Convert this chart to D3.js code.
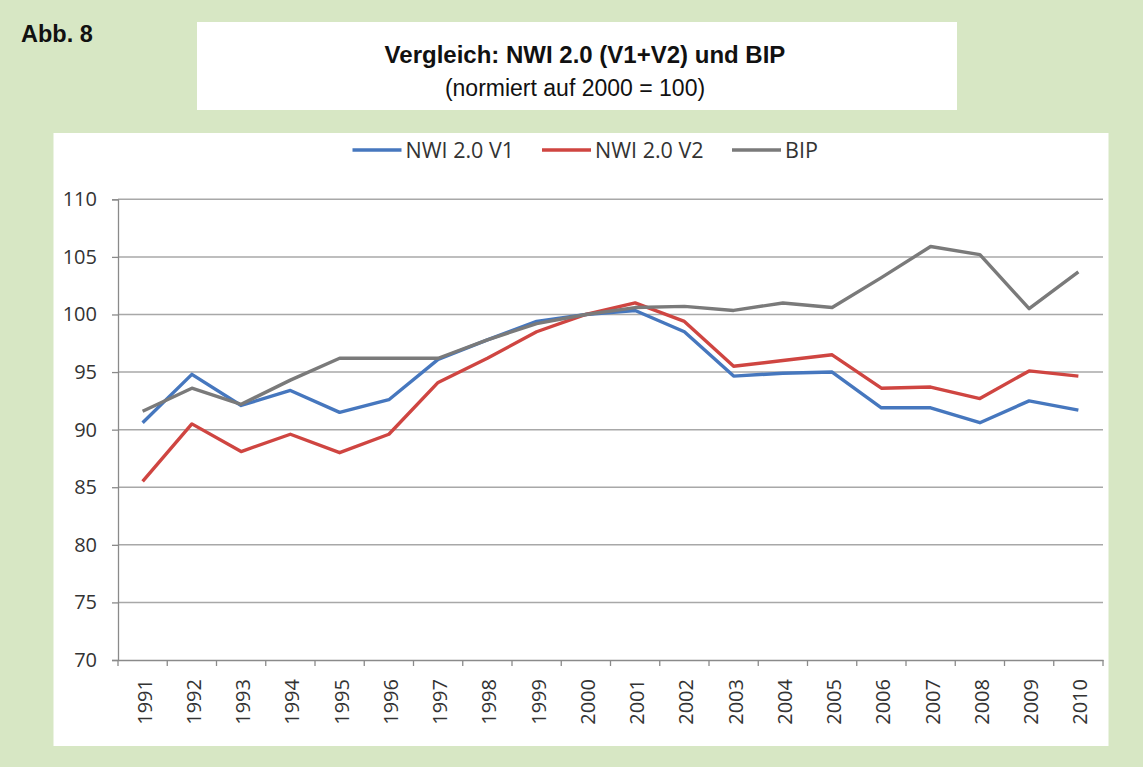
<!DOCTYPE html>
<html><head><meta charset="utf-8">
<script src="https://cdn.jsdelivr.net/npm/d3@7"></script>
<style>html,body{margin:0;padding:0;background:#d7e7c4;}</style>
</head><body>
<svg id="c" width="1143" height="767"></svg>
<script>
const years = ["1991","1992","1993","1994","1995","1996","1997","1998","1999","2000","2001","2002","2003","2004","2005","2006","2007","2008","2009","2010"];
const nwiV1 = [90.6,94.8,92.1,93.4,91.5,92.6,96.1,97.8,99.4,100.0,100.35,98.5,94.65,94.9,95.0,91.9,91.9,90.6,92.5,91.7];
const nwiV2 = [85.5,90.5,88.1,89.6,88.0,89.6,94.1,96.2,98.5,100.0,101.0,99.4,95.5,96.0,96.5,93.6,93.7,92.7,95.1,94.65];
const bip   = [91.6,93.6,92.2,94.3,96.2,96.2,96.2,97.8,99.2,100.0,100.6,100.7,100.35,101.0,100.6,103.2,105.9,105.2,100.5,103.7];
const yTicks = [70,75,80,85,90,95,100,105,110];
const seriesNames = ["NWI 2.0 V1","NWI 2.0 V2","BIP"];

(function(){
const colors = ["#4677be","#cf4541","#7a7a7a"];
const svg = d3.select("#c");
svg.append("rect").attr("width",1143).attr("height",767).attr("fill","#d7e7c4");
const arial = "Liberation Sans, Arial, sans-serif";

// header
svg.append("text").attr("x",21).attr("y",42).attr("font-family",arial)
  .attr("font-weight","bold").attr("font-size",23.5).attr("fill","#111").text("Abb. 8");
svg.append("rect").attr("x",197).attr("y",22).attr("width",760).attr("height",88).attr("fill","#fff");
svg.append("text").attr("x",585).attr("y",63).attr("text-anchor","middle")
  .attr("font-family",arial).attr("font-weight","bold").attr("font-size",24)
  .attr("fill","#111").text("Vergleich: NWI 2.0 (V1+V2) und BIP");
svg.append("text").attr("x",575).attr("y",95.5).attr("text-anchor","middle")
  .attr("font-family",arial).attr("font-size",23)
  .attr("fill","#111").text("(normiert auf 2000 = 100)");

// chart area
svg.append("rect").attr("x",53.5).attr("y",133).attr("width",1055).attr("height",613).attr("fill","#fff");

const pl=118, pr=1103, pt=199.3, pb=660;
const x = d3.scaleBand().domain(years).range([pl,pr]).padding(0);
const y = d3.scaleLinear().domain([70,110]).range([pb,pt]);
const font = "Open Sans, Lato, sans-serif";

// gridlines
svg.append("g").selectAll("line").data(yTicks.slice(1)).join("line")
  .attr("x1",pl).attr("x2",pr).attr("y1",d=>y(d)).attr("y2",d=>y(d))
  .attr("stroke","#a8a8a8").attr("stroke-width",1.5);

// y axis
const ya = svg.append("g").attr("transform",`translate(${pl},0)`)
  .call(d3.axisLeft(y).tickValues(yTicks).tickSize(6).tickPadding(15));
ya.select(".domain").attr("stroke","#8a8a8a").attr("stroke-width",1.3);
ya.selectAll(".tick line").attr("stroke","#8a8a8a").attr("stroke-width",1.3);
ya.selectAll("text").attr("font-family",font).attr("font-size",20).attr("fill","#333");

// x axis
const xa = svg.append("g").attr("transform",`translate(0,${pb})`)
  .call(d3.axisBottom(x).tickSize(0).tickFormat(d=>d));
xa.select(".domain").attr("stroke","#8a8a8a").attr("stroke-width",1.5);
xa.selectAll(".tick text").attr("font-family",font).attr("font-size",20).attr("fill","#333")
  .attr("transform","rotate(-90)").attr("text-anchor","end").attr("dy","0.45em").attr("x",-19).attr("y",0);
// boundary ticks
const bounds = years.map(d=>x(d)).concat([pr]);
svg.append("g").selectAll("line").data(bounds).join("line")
  .attr("x1",d=>d).attr("x2",d=>d).attr("y1",pb).attr("y2",pb+6)
  .attr("stroke","#8a8a8a").attr("stroke-width",1.3);

// lines
const data = [nwiV1,nwiV2,bip];
const line = d3.line().x((d,i)=>x(years[i])+x.bandwidth()/2).y(d=>y(d));
data.forEach((s,i)=>{
  svg.append("path").datum(s).attr("d",line).attr("fill","none")
    .attr("stroke",colors[i]).attr("stroke-width",3.4).attr("stroke-linejoin","round");
});

// legend
const legX = [352.5,542,732];
seriesNames.forEach((n,i)=>{
  svg.append("line").attr("x1",legX[i]).attr("x2",legX[i]+49).attr("y1",150).attr("y2",150)
    .attr("stroke",colors[i]).attr("stroke-width",3.4);
  svg.append("text").attr("x",legX[i]+53).attr("y",158).attr("font-family",font).attr("font-size",21.5)
    .attr("fill","#333").text(n);
});
})();
</script>
</body></html>
